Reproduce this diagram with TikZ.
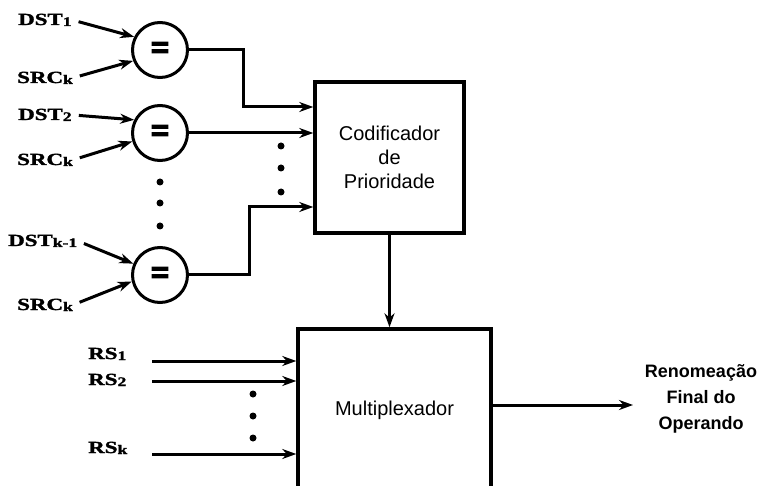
\documentclass[tikz,border=0pt]{standalone}
\usepackage{graphicx}
\usepackage{fontspec}
\setmainfont{Liberation Sans}
\newfontfamily\regfont[FakeBold=1.5]{Liberation Serif}
\newfontfamily\eqfont[FakeBold=7]{Liberation Sans}
\usetikzlibrary{arrows.meta, positioning}
\tikzstyle{cmp} = [
    circle,
    draw=black,
    line width=3pt,
    minimum size=55pt,
    inner sep=0pt,
    font=\eqfont\fontsize{30}{30}\selectfont
]
\tikzstyle{block} = [
    rectangle,
    draw=black,
    line width=3.5pt,
    align=center,
    font=\fontsize{20}{24}\selectfont
]
\tikzstyle{reg} = [
    inner sep=0pt,
    anchor=base west,
    font=\regfont\bfseries\fontsize{17}{17}\selectfont
]
\tikzstyle{dot} = [circle, fill=black, inner sep=0pt, minimum size=7pt]
\tikzstyle{arrow} = [line width=3pt, -{Stealth[length=14pt,width=10pt]}]
\tikzstyle{feed} = [arrow, shorten <=7pt]
\newcommand{\regsub}[1]{\raisebox{-1pt}{\fontsize{13}{13}\selectfont #1}}
\newcommand{\regname}[2]{\scalebox{1.35}[1]{#1\regsub{#2}}}

\begin{document}
\begin{tikzpicture}[x=1pt, y=-1pt]
\clip (0,0) rectangle (760,486);

% comparators
\node (c1) [cmp] at (160,50) {=};
\node (c2) [cmp] at (160,133) {=};
\node (c3) [cmp] at (160,275) {=};

\node (d1) [reg] at (18,25) {\regname{DST}{1}};
\node (s1) [reg] at (17,83) {\regname{SRC}{k}};
\node (d2) [reg] at (18,120) {\regname{DST}{2}};
\node (s2) [reg] at (17,165) {\regname{SRC}{k}};
\node (d3) [reg] at (8,246) {\regname{DST}{k-1}};
\node (s3) [reg] at (17,310) {\regname{SRC}{k}};

\draw [feed] (d1.east) -- (c1.153);
\draw [feed] (s1.east) -- (c1.202);
\draw [feed] (d2.east) -- (c2.153);
\draw [feed] (s2.east) -- (c2.197);
\draw [feed] (d3.east) -- (c3.157);
\draw [feed] (s3.east) -- (c3.193);

\foreach \y in {182,203,226}
    \node (vd\y) [dot] at (160,\y) {};

% blocks
\node (cod) [block, minimum width=149pt, minimum height=151pt] at (389.5,157.5)
{Codificador\\de\\Prioridade};

\node (mux) [block, minimum width=193pt, minimum height=162pt] at (394.5,410)
{Multiplexador};

\draw [arrow] (c1.east) -- (c1.east -| 243,0) |- (cod.west |- 0,107);
\draw [arrow] (c2.east) -- (c2.east -| cod.west);
\draw [arrow] (c3.east) -- (c3.east -| 249,0) |- (cod.west |- 0,207);

\foreach \y in {146,168,192}
    \node (hd\y) [dot] at (281,\y) {};

\draw [arrow] (cod.south) -- (cod.south |- mux.north);

% register inputs
\node (rs1) [reg] at (88,359) {\regname{RS}{1}};
\node (rs2) [reg] at (88,385) {\regname{RS}{2}};
\node (rsk) [reg] at (88,453) {\regname{RS}{k}};

\coordinate (r1) at (152,361);
\coordinate (r2) at (152,381);
\coordinate (rk) at (152,454);

\draw [arrow] (r1) -- (r1 -| mux.west);
\draw [arrow] (r2) -- (r2 -| mux.west);
\draw [arrow] (rk) -- (rk -| mux.west);

\foreach \y in {394,416,438}
    \node (md\y) [dot] at (253,\y) {};

% output
\coordinate (out) at (633,405);
\draw [arrow] (mux.east |- out) -- (out);

\node (res) [align=center, font=\bfseries\fontsize{18}{26}\selectfont] at (701,399)
{Renomeação\\Final do\\Operando};

\end{tikzpicture}
\end{document}
